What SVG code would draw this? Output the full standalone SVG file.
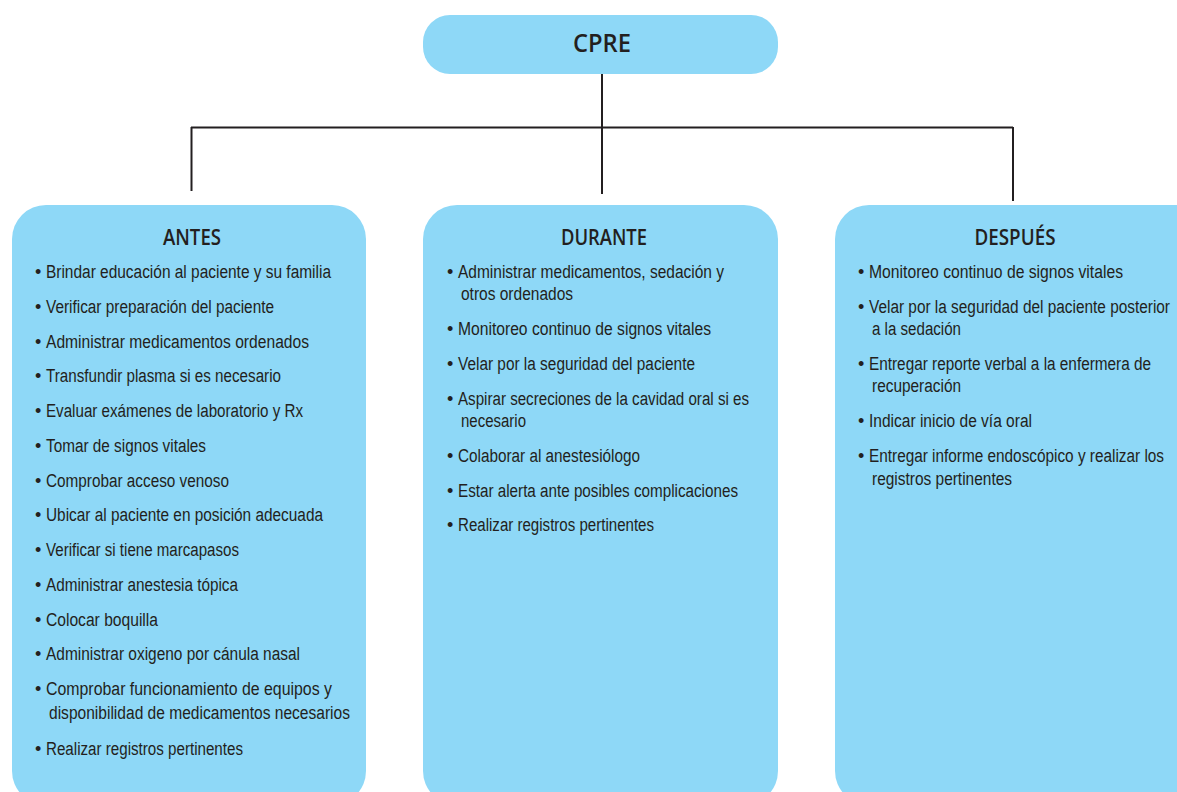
<svg xmlns="http://www.w3.org/2000/svg" width="1177" height="792" viewBox="0 0 1177 792">
<style>
.box{fill:#8ed8f7;}
.conn{stroke:#231f20;stroke-width:2;fill:none;}
.hd{font-family:"Open Sans","Liberation Sans",sans-serif;font-weight:600;fill:#231f20;text-anchor:middle;}
.it{font-family:"Liberation Sans",Arial,sans-serif;font-size:18px;fill:#231f20;}
</style>
<rect width="1177" height="792" fill="#ffffff"/>
<g id="connectors">
<path class="conn" d="M602 74 V194"/>
<path class="conn" d="M191 127.5 H1013"/>
<path class="conn" d="M191.5 127 V191"/>
<path class="conn" d="M1013 127 V201"/>
</g>
<g id="node-cpre">
<rect class="box" x="423" y="15" width="355" height="59" rx="27"/>
<text class="hd" x="602" y="52" font-size="26" textLength="58" lengthAdjust="spacingAndGlyphs">CPRE</text>
</g>
<g id="node-antes">
<rect class="box" x="12" y="205" width="354" height="600" rx="34"/>
<text class="hd" x="192" y="245" font-size="21" textLength="58" lengthAdjust="spacingAndGlyphs">ANTES</text>
<g class="it">
<text x="35" y="278">•</text><text x="46" y="278" textLength="285" lengthAdjust="spacingAndGlyphs">Brindar educación al paciente y su familia</text>
<text x="35" y="313">•</text><text x="46" y="313" textLength="228" lengthAdjust="spacingAndGlyphs">Verificar preparación del paciente</text>
<text x="35" y="348">•</text><text x="46" y="348" textLength="263" lengthAdjust="spacingAndGlyphs">Administrar medicamentos ordenados</text>
<text x="35" y="382">•</text><text x="46" y="382" textLength="235" lengthAdjust="spacingAndGlyphs">Transfundir plasma si es necesario</text>
<text x="35" y="417">•</text><text x="46" y="417" textLength="257" lengthAdjust="spacingAndGlyphs">Evaluar exámenes de laboratorio y Rx</text>
<text x="35" y="452">•</text><text x="46" y="452" textLength="160" lengthAdjust="spacingAndGlyphs">Tomar de signos vitales</text>
<text x="35" y="487">•</text><text x="46" y="487" textLength="183" lengthAdjust="spacingAndGlyphs">Comprobar acceso venoso</text>
<text x="35" y="521">•</text><text x="46" y="521" textLength="277" lengthAdjust="spacingAndGlyphs">Ubicar al paciente en posición adecuada</text>
<text x="35" y="556">•</text><text x="46" y="556" textLength="193" lengthAdjust="spacingAndGlyphs">Verificar si tiene marcapasos</text>
<text x="35" y="591">•</text><text x="46" y="591" textLength="192" lengthAdjust="spacingAndGlyphs">Administrar anestesia tópica</text>
<text x="35" y="626">•</text><text x="46" y="626" textLength="112" lengthAdjust="spacingAndGlyphs">Colocar boquilla</text>
<text x="35" y="660">•</text><text x="46" y="660" textLength="254" lengthAdjust="spacingAndGlyphs">Administrar oxigeno por cánula nasal</text>
<text x="35" y="695">•</text><text x="46" y="695" textLength="286" lengthAdjust="spacingAndGlyphs">Comprobar funcionamiento de equipos y</text>
<text x="49" y="719" textLength="301" lengthAdjust="spacingAndGlyphs">disponibilidad de medicamentos necesarios</text>
<text x="35" y="755">•</text><text x="46" y="755" textLength="197" lengthAdjust="spacingAndGlyphs">Realizar registros pertinentes</text>
</g>
</g>
<g id="node-durante">
<rect class="box" x="423" y="205" width="355" height="600" rx="34"/>
<text class="hd" x="604" y="245" font-size="21" textLength="86" lengthAdjust="spacingAndGlyphs">DURANTE</text>
<g class="it">
<text x="447" y="278">•</text><text x="458" y="278" textLength="266" lengthAdjust="spacingAndGlyphs">Administrar medicamentos, sedación y</text>
<text x="461" y="300" textLength="112" lengthAdjust="spacingAndGlyphs">otros ordenados</text>
<text x="447" y="335">•</text><text x="458" y="335" textLength="253" lengthAdjust="spacingAndGlyphs">Monitoreo continuo de signos vitales</text>
<text x="447" y="370">•</text><text x="458" y="370" textLength="237" lengthAdjust="spacingAndGlyphs">Velar por la seguridad del paciente</text>
<text x="447" y="405">•</text><text x="458" y="405" textLength="291" lengthAdjust="spacingAndGlyphs">Aspirar secreciones de la cavidad oral si es</text>
<text x="461" y="427" textLength="65" lengthAdjust="spacingAndGlyphs">necesario</text>
<text x="447" y="462">•</text><text x="458" y="462" textLength="182" lengthAdjust="spacingAndGlyphs">Colaborar al anestesiólogo</text>
<text x="447" y="497">•</text><text x="458" y="497" textLength="280" lengthAdjust="spacingAndGlyphs">Estar alerta ante posibles complicaciones</text>
<text x="447" y="531">•</text><text x="458" y="531" textLength="196" lengthAdjust="spacingAndGlyphs">Realizar registros pertinentes</text>
</g>
</g>
<g id="node-despues">
<rect class="box" x="835" y="205" width="380" height="600" rx="34"/>
<text class="hd" x="1015" y="245" font-size="21" textLength="81" lengthAdjust="spacingAndGlyphs">DESPUÉS</text>
<g class="it">
<text x="858" y="278">•</text><text x="869" y="278" textLength="254" lengthAdjust="spacingAndGlyphs">Monitoreo continuo de signos vitales</text>
<text x="858" y="313">•</text><text x="869" y="313" textLength="301" lengthAdjust="spacingAndGlyphs">Velar por la seguridad del paciente posterior</text>
<text x="872" y="335" textLength="89" lengthAdjust="spacingAndGlyphs">a la sedación</text>
<text x="858" y="370">•</text><text x="869" y="370" textLength="282" lengthAdjust="spacingAndGlyphs">Entregar reporte verbal a la enfermera de</text>
<text x="872" y="392" textLength="89" lengthAdjust="spacingAndGlyphs">recuperación</text>
<text x="858" y="427">•</text><text x="869" y="427" textLength="163" lengthAdjust="spacingAndGlyphs">Indicar inicio de vía oral</text>
<text x="858" y="462">•</text><text x="869" y="462" textLength="295" lengthAdjust="spacingAndGlyphs">Entregar informe endoscópico y realizar los</text>
<text x="872" y="485" textLength="140" lengthAdjust="spacingAndGlyphs">registros pertinentes</text>
</g>
</g>
</svg>
